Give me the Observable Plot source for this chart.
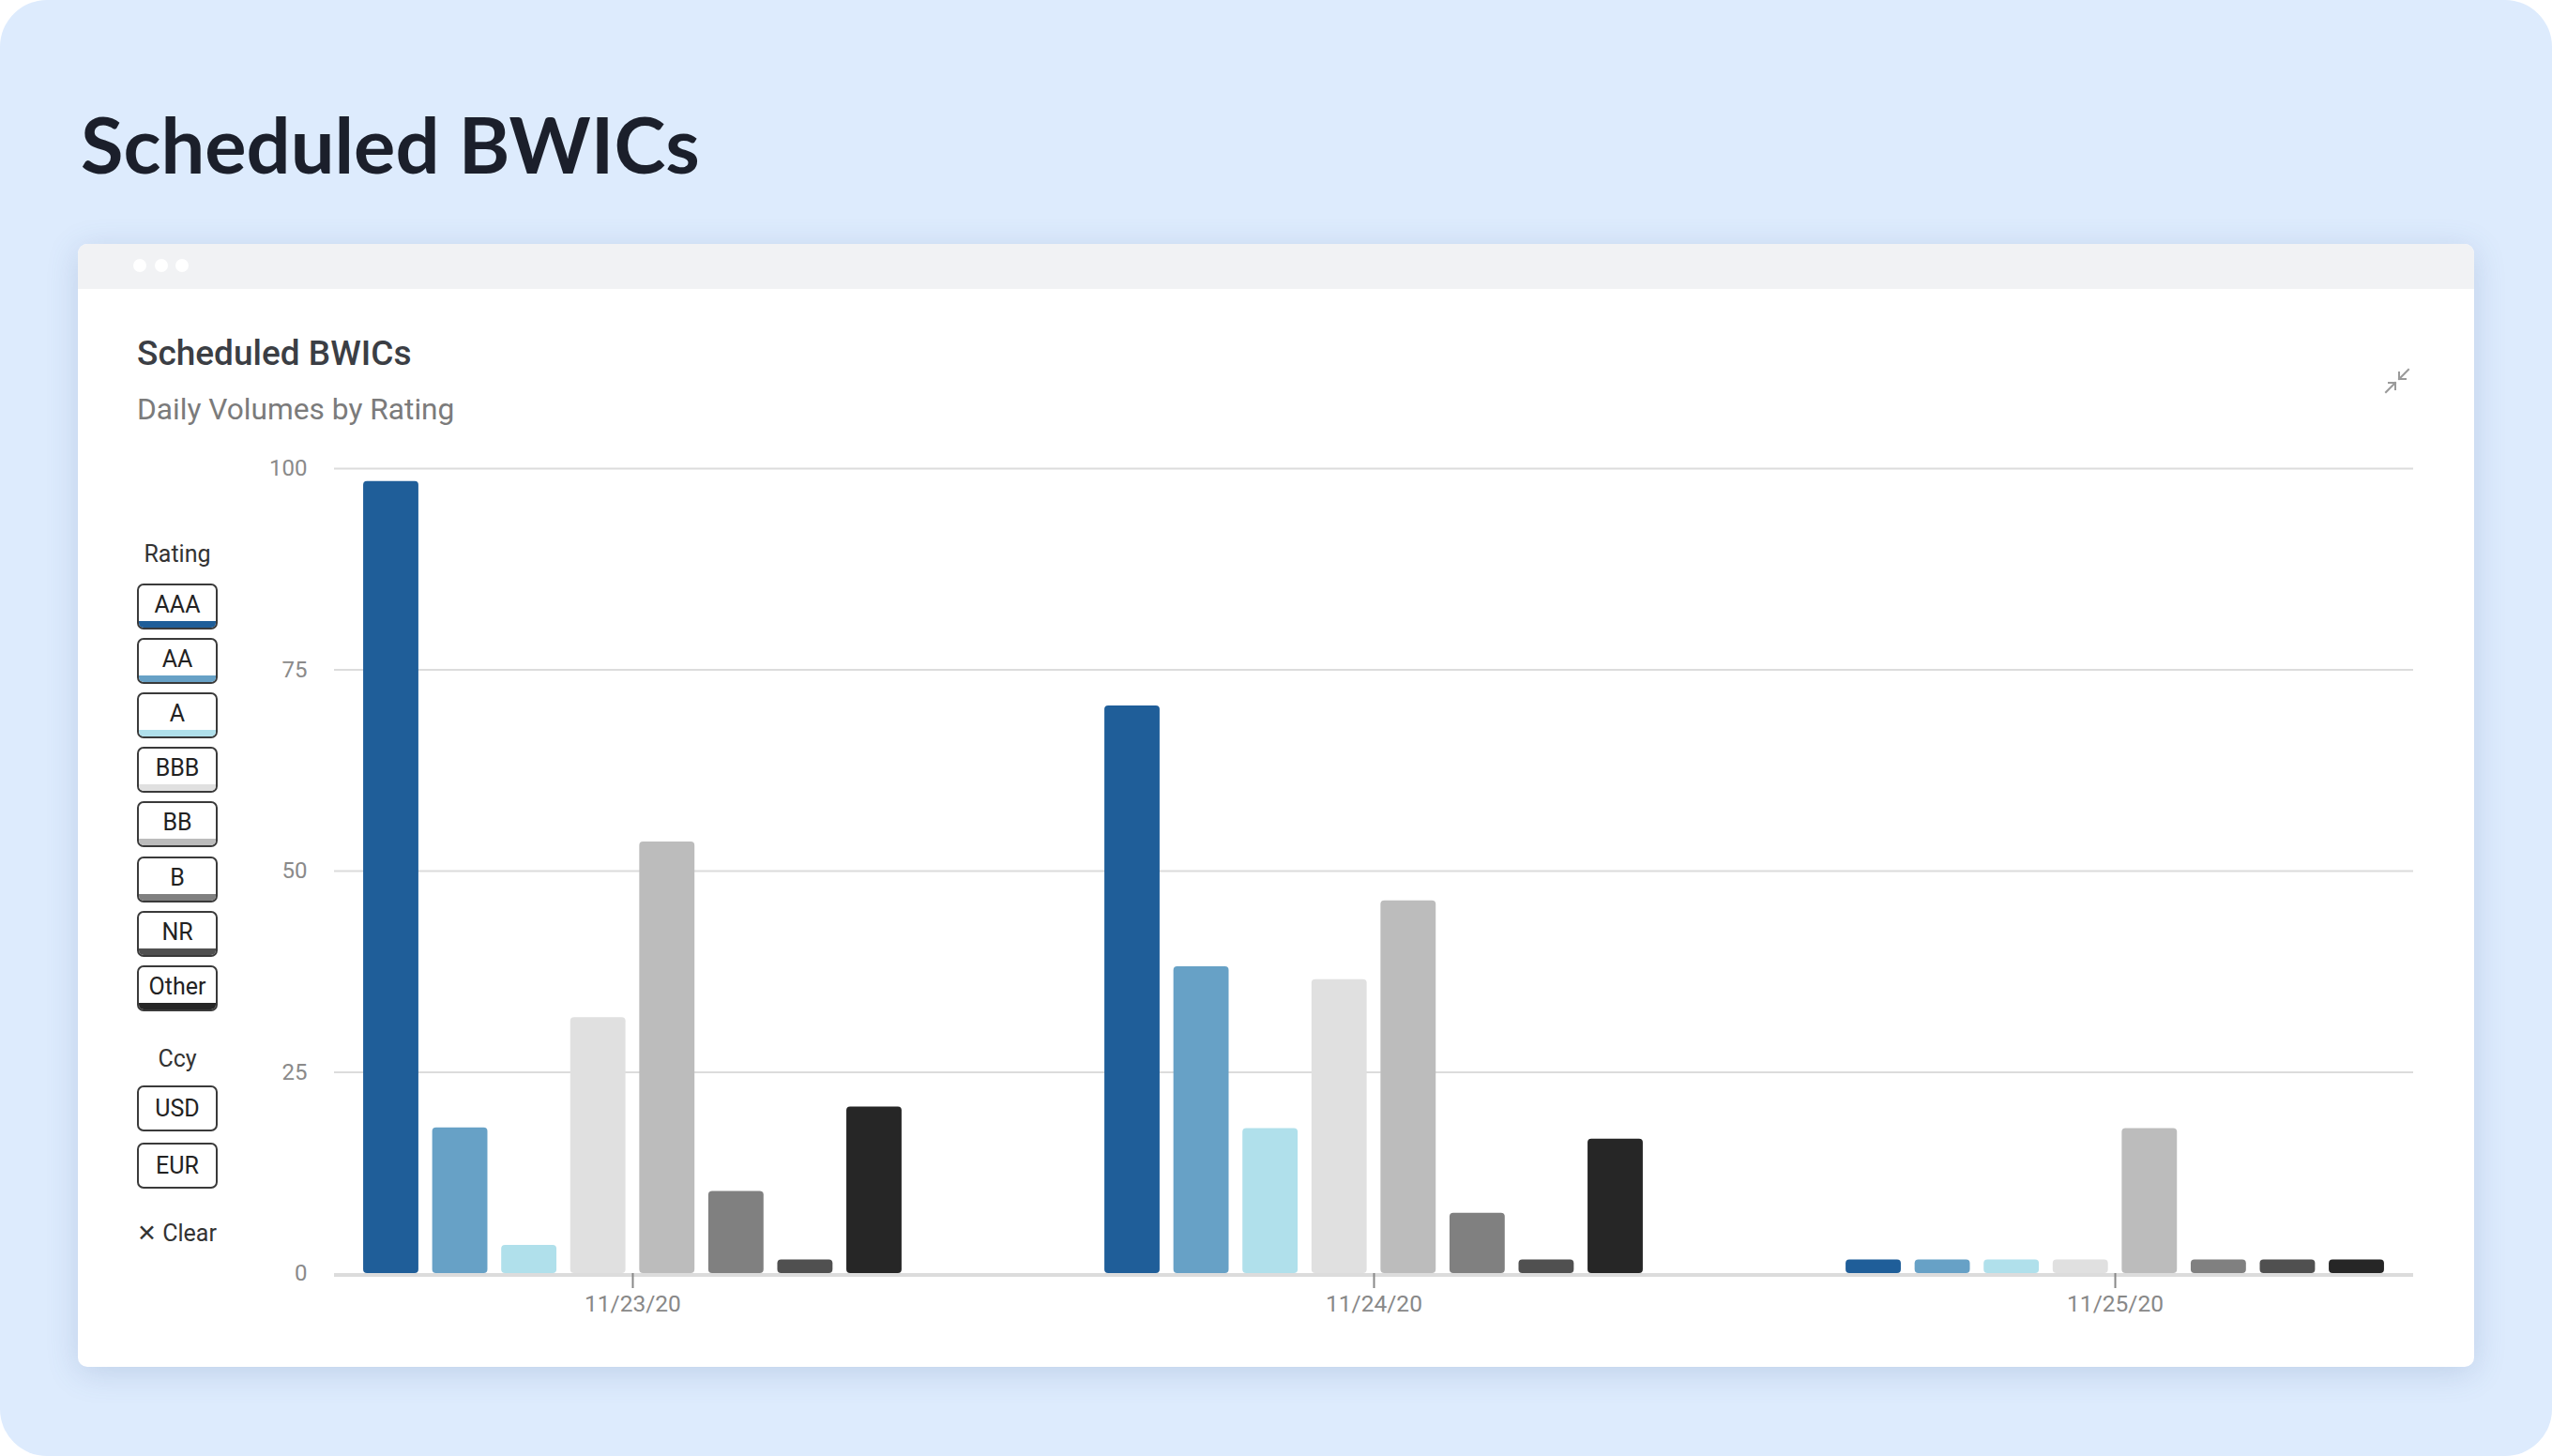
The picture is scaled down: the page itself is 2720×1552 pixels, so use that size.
<!DOCTYPE html>
<html>
<head>
<meta charset="utf-8">
<script src="https://cdn.jsdelivr.net/npm/d3@7"></script>
<script src="https://cdn.jsdelivr.net/npm/@observablehq/plot@0.6"></script>
<style>
  html, body { margin: 0; padding: 0; background: #ffffff; }
  #page { position: relative; width: 2720px; height: 1552px; background: #ddebfd; border-radius: 50px; overflow: hidden; font-family: Roboto, "Noto Sans", sans-serif; }
  #bigtitle { position: absolute; left: 86px; top: 112px; font-family: Lato, sans-serif; font-weight: 700; font-size: 83px; line-height: 83px; color: #1b1f2b; white-space: nowrap; }
  #card { position: absolute; left: 83px; top: 260px; width: 2554px; height: 1197px; background: #ffffff; border-radius: 10px; box-shadow: 0 6px 34px rgba(70, 100, 150, 0.20); overflow: hidden; }
  #topbar { position: absolute; left: 0; top: 0; width: 100%; height: 48px; background: #f1f2f4; }
  .dot { position: absolute; top: 16px; width: 14px; height: 14px; border-radius: 7px; background: #ffffff; }
  #ctitle { position: absolute; left: 146px; top: 358px; font-weight: 500; font-size: 37px; line-height: 37px; color: #3b3e44; white-space: nowrap; }
  #csub { position: absolute; left: 146px; top: 421px; font-weight: 400; font-size: 31.7px; line-height: 31.7px; color: #7b7b7b; white-space: nowrap; }
  .lab { position: absolute; left: 146px; width: 86px; text-align: center; font-size: 25px; line-height: 25px; color: #333; }
  .btn { position: absolute; left: 146px; width: 86px; height: 49px; box-sizing: border-box; border: 2.5px solid #3a3a3a; border-radius: 7px; overflow: hidden; font-size: 25px; color: #222; text-align: center; line-height: 44px; background: #fff; }
  .btn .strip { position: absolute; left: 0; right: 0; bottom: 0; height: 7px; }
  .btn span { position: relative; top: -1px; }
  #clear { position: absolute; left: 146px; top: 1302px; font-size: 25px; line-height: 25px; color: #333; white-space: nowrap; }
  #icon { position: absolute; left: 2541px; top: 392px; }
  .layer { position: absolute; left: 0; top: 440px; }
  svg [aria-label="fx-axis"] line, svg [aria-label="fx-axis tick"] { stroke: #dcdcdc; stroke-width: 2px; }
</style>
</head>
<body>
<div id="page">
  <div id="bigtitle">Scheduled BWICs</div>
  <div id="card">
    <div id="topbar">
      <div class="dot" style="left:59px"></div>
      <div class="dot" style="left:82px"></div>
      <div class="dot" style="left:104px"></div>
    </div>
  </div>
  <div id="ctitle">Scheduled BWICs</div>
  <div id="csub">Daily Volumes by Rating</div>
  <div id="legend"></div>
  <div id="clear">✕ Clear</div>
  <svg id="icon" width="28" height="28" viewBox="0 0 28 28">
    <g stroke="#9a9a9a" stroke-width="2" fill="none" stroke-linecap="square">
      <line x1="26" y1="2" x2="16" y2="12"/>
      <polyline points="16,5 16,12 23,12"/>
      <line x1="2" y1="26" x2="12" y2="16"/>
      <polyline points="5,16 12,16 12,23"/>
    </g>
  </svg>
  <div id="gridLayer" class="layer"></div>
  <div id="barLayer" class="layer"></div>
</div>
<script>
const dates = ["11/23/20", "11/24/20", "11/25/20"];
const ratings = ["AAA", "AA", "A", "BBB", "BB", "B", "NR", "Other"];
const ratingColors = ["#1f5e99", "#67a1c6", "#b0e0eb", "#e0e0e0", "#bcbcbc", "#808080", "#505050", "#262626"];
const vol_11_23 = [98.4, 18.1, 3.5, 31.8, 53.6, 10.2, 1.7, 20.7];
const vol_11_24 = [70.5, 38.1, 18.0, 36.5, 46.3, 7.5, 1.7, 16.7];
const vol_11_25 = [1.7, 1.7, 1.7, 1.7, 18.0, 1.7, 1.7, 1.7];
const yTicks = [0, 25, 50, 75, 100];
const currencies = ["USD", "EUR"];

const series = [vol_11_23, vol_11_24, vol_11_25];
const data = [];
dates.forEach((d, i) => ratings.forEach((r, j) => data.push({date: d, rating: r, value: series[i][j]})));

// legend (HTML)
const legend = document.getElementById("legend");
const addLab = (t, cy) => { const e = document.createElement("div"); e.className = "lab"; e.textContent = t; e.style.top = (cy - 12.5) + "px"; legend.appendChild(e); };
addLab("Rating", 590);
ratings.forEach((r, i) => {
  const b = document.createElement("div"); b.className = "btn"; b.style.top = (622 + i * 58.1) + "px";
  b.innerHTML = `<span>${r}</span><div class="strip" style="background:${ratingColors[i]}"></div>`;
  legend.appendChild(b);
});
addLab("Ccy", 1128);
currencies.forEach((c, i) => {
  const b = document.createElement("div"); b.className = "btn"; b.style.top = (1157 + i * 61) + "px";
  b.innerHTML = `<span style="top:1px">${c}</span>`;
  legend.appendChild(b);
});

const W = 2720, H = 1000, ML = 356, MR = 148, MT = 59, MB = 83;

// grid + y axis layer
const grid = Plot.plot({
  width: W, height: H, marginLeft: ML, marginRight: MR, marginTop: MT, marginBottom: MB,
  style: {background: "none", overflow: "visible", fontFamily: "Roboto", fontSize: "24px", color: "#8a8a8a"},
  y: {domain: [0, 100], ticks: yTicks, tickSize: 0, tickPadding: 29, label: null},
  marks: [
    Plot.ruleY(yTicks.filter(d => d > 0), {stroke: "#dcdcdc", strokeWidth: 2}),
    Plot.ruleY([0], {stroke: "#dcdcdc", strokeWidth: 4, dy: 1.5})
  ]
});
document.getElementById("gridLayer").appendChild(grid);

// bars layer (faceted by date)
const bars = Plot.plot({
  width: W, height: H, marginLeft: ML, marginRight: MR, marginTop: MT, marginBottom: MB,
  style: {background: "none", overflow: "visible", fontFamily: "Roboto", fontSize: "24.5px", color: "#888888"},
  facet: {data: data, x: "date"},
  fx: {domain: dates, paddingInner: 0.255, paddingOuter: 0.03, round: false, axis: "bottom", tickSize: 16, tickPadding: 7, label: null},
  x: {domain: ratings, paddingInner: 0.2, paddingOuter: 0.1, round: false, axis: null},
  y: {domain: [0, 100], axis: null},
  color: {domain: ratings, range: ratingColors},
  marks: [
    Plot.barY(data, {x: "rating", y: "value", fill: "rating", rx: 4})
  ]
});
document.getElementById("barLayer").appendChild(bars);
</script>
</body>
</html>
